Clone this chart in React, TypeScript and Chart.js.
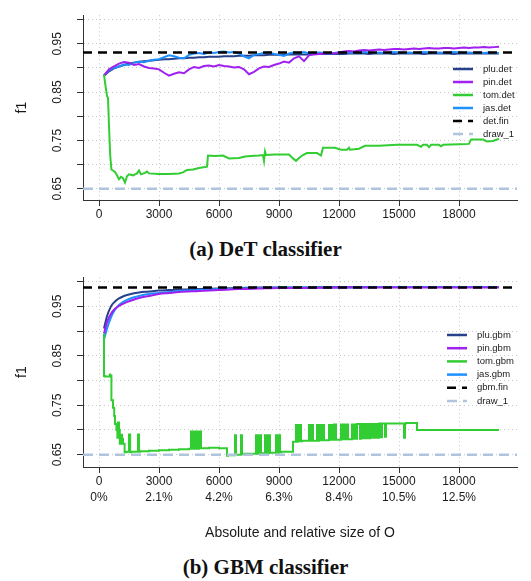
import React, { useEffect, useRef } from 'react';
import { Chart, registerables } from 'chart.js';

Chart.register(...registerables);

// ---------- shared axis data ----------
const X_MIN = -800;
const X_MAX = 20900;
const X_TICKS = [0, 3000, 6000, 9000, 12000, 15000, 18000];
const PCT_LABELS = ['0%', '2.1%', '4.2%', '6.3%', '8.4%', '10.5%', '12.5%'];
const Y_TICKS = [0.65, 0.7, 0.75, 0.8, 0.85, 0.9, 0.95, 1.0];
const Y_LABELED = [0.65, 0.75, 0.85, 0.95];

// ---------- panel (a) DeT ----------
const X_A = [
  250, 500, 750, 1000, 1250, 1500, 1750, 2000, 2250, 2500, 2750, 3000, 3250, 3500, 3750, 4000,
  4250, 4500, 4750, 5000, 5250, 5500, 5750, 6000, 6250, 6500, 6750, 7000, 7250, 7500, 7750, 8000,
  8250, 8500, 8750, 9000, 9250, 9500, 9750, 10000, 10250, 10500, 10750, 11000, 11250, 11500, 11750, 12000,
  12250, 12500, 12750, 13000, 13250, 13500, 13750, 14000, 14250, 14500, 14750, 15000, 15250, 15500, 15750, 16000,
  16250, 16500, 16750, 17000, 17250, 17500, 17750, 18000, 18250, 18500, 18750, 19000, 19250, 19500, 19750, 20000,
];
const PLU_DET = [
  0.884, 0.893, 0.899, 0.903, 0.906, 0.909, 0.911, 0.913, 0.914, 0.915, 0.916, 0.917, 0.918, 0.918, 0.919, 0.92,
  0.92, 0.921, 0.921, 0.922, 0.922, 0.923, 0.923, 0.923, 0.924, 0.924, 0.924, 0.925, 0.925, 0.925, 0.926, 0.926,
  0.926, 0.927, 0.927, 0.927, 0.927, 0.928, 0.928, 0.928, 0.928, 0.928, 0.929, 0.929, 0.929, 0.929, 0.929, 0.929,
  0.929, 0.93, 0.93, 0.93, 0.93, 0.929, 0.93, 0.93, 0.93, 0.93, 0.929, 0.93, 0.93, 0.93, 0.93, 0.93,
  0.929, 0.93, 0.93, 0.93, 0.93, 0.93, 0.929, 0.93, 0.93, 0.93, 0.93, 0.93, 0.93, 0.93, 0.93, 0.93,
];
const PIN_DET = [
  0.884, 0.897, 0.903, 0.909, 0.912, 0.911, 0.906, 0.908, 0.903, 0.9, 0.899, 0.897, 0.89, 0.884, 0.888, 0.891,
  0.889, 0.897, 0.902, 0.9, 0.904, 0.905, 0.903, 0.906, 0.904, 0.903, 0.901, 0.902, 0.897, 0.887, 0.892, 0.899,
  0.903, 0.902, 0.906, 0.909, 0.913, 0.911, 0.92, 0.924, 0.914, 0.926, 0.928, 0.929, 0.93, 0.931, 0.93, 0.932,
  0.934, 0.935, 0.934, 0.936, 0.937, 0.936, 0.937, 0.938, 0.937, 0.938, 0.939, 0.939, 0.938, 0.939, 0.94, 0.939,
  0.94, 0.941, 0.94, 0.94, 0.941, 0.941, 0.94, 0.941, 0.942, 0.941, 0.942, 0.942, 0.943, 0.942, 0.943, 0.944,
];
const JAS_DET = [
  0.885, 0.895, 0.9, 0.903, 0.907, 0.906, 0.911, 0.913, 0.912, 0.915, 0.917, 0.918, 0.922, 0.926, 0.924, 0.921,
  0.92, 0.927, 0.93, 0.931, 0.929, 0.932, 0.931, 0.933, 0.934, 0.932, 0.933, 0.93, 0.924, 0.92, 0.927, 0.929,
  0.931, 0.932, 0.929, 0.927, 0.925, 0.93, 0.932, 0.931, 0.933, 0.93, 0.931, 0.932, 0.931, 0.93, 0.931, 0.932,
  0.933, 0.932, 0.931, 0.932, 0.933, 0.932, 0.931, 0.932, 0.931, 0.932, 0.933, 0.932, 0.931, 0.932, 0.931, 0.932,
  0.933, 0.932, 0.931, 0.932, 0.931, 0.932, 0.933, 0.932, 0.931, 0.932, 0.931, 0.932, 0.931, 0.932, 0.931, 0.931,
];
const TOM_DET_X = [
  250, 300, 400, 450, 500, 560, 620, 700, 800, 900, 1000, 1100, 1200, 1300, 1400, 1500, 1700, 1900, 2000, 2100,
  2300, 2400, 2500, 3000, 3500, 4000, 4200, 4400, 4700, 5000, 5300, 5400, 5450, 5800, 6200, 6500, 7000, 7300, 7600, 8000,
  8200, 8250, 8300, 8350, 8800, 9500, 9700, 9850, 10000, 10200, 10400, 10900, 11100, 11200, 11800, 12100, 12400, 12500, 12550, 13000,
  13300, 14000, 14900, 15900, 16100, 16200, 16400, 16500, 16600, 17000, 17100, 17200, 18000, 18500, 18600, 19200, 19400, 19700, 19900, 20000,
];
const TOM_DET_Y = [
  0.886, 0.87, 0.842, 0.838, 0.78, 0.72, 0.69, 0.688, 0.685, 0.678, 0.67, 0.675, 0.672, 0.663, 0.676, 0.68, 0.678, 0.682, 0.688, 0.68,
  0.683, 0.686, 0.682, 0.681, 0.681, 0.682, 0.684, 0.689, 0.69, 0.693, 0.695, 0.696, 0.719, 0.718, 0.719, 0.713, 0.714, 0.717, 0.718, 0.719,
  0.72, 0.708, 0.727, 0.72, 0.721, 0.721, 0.713, 0.708, 0.714, 0.72, 0.724, 0.724, 0.719, 0.735, 0.735, 0.731, 0.731, 0.735, 0.731, 0.733,
  0.739, 0.739, 0.741, 0.741, 0.737, 0.741, 0.741, 0.736, 0.741, 0.741, 0.738, 0.741, 0.742, 0.743, 0.752, 0.752, 0.748, 0.749, 0.752, 0.753,
];
const DET_FIN = 0.932;
const DRAW_1 = 0.65;

// ---------- panel (b) GBM ----------
const X_B = [250, 400, 600, 800, 1000, 1250, 1500, 2000, 2500, 3000, 3500, 4000, 5000, 6000, 7000, 8000, 9000, 10000, 12000, 14000, 16000, 18000, 20000];
const PLU_GBM = [0.905, 0.93, 0.95, 0.96, 0.966, 0.971, 0.974, 0.978, 0.98, 0.982, 0.983, 0.984, 0.985, 0.986, 0.987, 0.988, 0.988, 0.988, 0.989, 0.989, 0.989, 0.989, 0.989];
const PIN_GBM = [0.895, 0.918, 0.935, 0.945, 0.951, 0.956, 0.96, 0.967, 0.971, 0.975, 0.977, 0.979, 0.981, 0.983, 0.985, 0.986, 0.987, 0.987, 0.988, 0.988, 0.988, 0.988, 0.988];
const JAS_GBM = [0.883, 0.905, 0.928, 0.943, 0.953, 0.96, 0.965, 0.971, 0.975, 0.977, 0.979, 0.981, 0.983, 0.985, 0.986, 0.987, 0.988, 0.988, 0.988, 0.989, 0.989, 0.989, 0.989];
const TOM_GBM_X = [
  250, 290, 540, 560, 620, 700, 760, 800, 870, 920, 950, 1000, 1040, 1100, 1150, 1200, 1280, 1370, 1500, 1560,
  1620, 1950, 2000, 2060, 2500, 3000, 3500, 4000, 4500, 4600, 4650, 4700, 4800, 4850, 4950, 5000, 5100, 5150, 5500, 6000,
  6400, 6450, 6800, 6850, 6900, 7100, 7150, 7200, 7850, 7900, 7950, 8000, 8050, 8100, 8150, 8300, 8350, 8400, 8450, 8500,
  8550, 8600, 8850, 8900, 8950, 9050, 9100, 9700, 9800, 9850, 9880, 9930, 10000, 10050, 10100, 10150, 10500, 10550, 10600, 10700,
  10750, 10900, 10950, 11000, 11100, 11150, 11250, 11300, 11500, 11550, 11600, 11700, 11750, 11850, 11900, 12100, 12150, 12200, 12300, 12350,
  12450, 12500, 12650, 12700, 12750, 12850, 12900, 13050, 13100, 13200, 13250, 13350, 13400, 13500, 13550, 13650, 13700, 13800, 13850, 13950,
  14000, 14100, 14150, 14300, 14350, 14450, 15250, 15300, 15350, 15900, 15950, 20000,
];
const TOM_GBM_Y = [
  0.895, 0.809, 0.808, 0.812, 0.81, 0.76, 0.745, 0.728, 0.712, 0.7, 0.684, 0.715, 0.7, 0.672, 0.69, 0.682, 0.672, 0.655, 0.656, 0.691,
  0.655, 0.656, 0.691, 0.656, 0.657, 0.658, 0.659, 0.66, 0.661, 0.662, 0.697, 0.662, 0.697, 0.662, 0.697, 0.662, 0.697, 0.663, 0.663, 0.664,
  0.663, 0.648, 0.649, 0.689, 0.65, 0.65, 0.689, 0.651, 0.652, 0.689, 0.652, 0.689, 0.652, 0.689, 0.653, 0.653, 0.689, 0.653, 0.689, 0.653,
  0.689, 0.654, 0.654, 0.689, 0.654, 0.689, 0.655, 0.656, 0.676, 0.676, 0.71, 0.676, 0.71, 0.677, 0.71, 0.677, 0.678, 0.71, 0.678, 0.71,
  0.678, 0.678, 0.71, 0.678, 0.71, 0.679, 0.71, 0.679, 0.679, 0.71, 0.68, 0.71, 0.68, 0.711, 0.68, 0.68, 0.711, 0.681, 0.711, 0.681,
  0.711, 0.681, 0.681, 0.711, 0.682, 0.711, 0.682, 0.712, 0.682, 0.712, 0.683, 0.712, 0.683, 0.712, 0.683, 0.712, 0.684, 0.712, 0.684, 0.712,
  0.684, 0.713, 0.685, 0.713, 0.686, 0.713, 0.713, 0.684, 0.713, 0.714, 0.7, 0.7,
];
const GBM_FIN = 0.988;

// ---------- styles ----------
const SANS = '"Liberation Sans", Arial, Helvetica, sans-serif';
const SERIF = '"Liberation Serif", "Times New Roman", serif';
const C_PLU = '#27408B';
const C_PIN = '#A020F0';
const C_TOM = '#32CD32';
const C_JAS = '#1E90FF';
const C_FIN = '#000000';
const C_DRAW = '#B0C4DE';
const TEXT = '#1a1a1a';

const xy = (xs: number[], ys: number[]) => xs.map((x, i) => ({ x, y: ys[i] }));
const flat = (v: number) => [{ x: X_MIN, y: v }, { x: X_MAX, y: v }];

const insideLegend = {
  id: 'insideLegend',
  afterDraw(chart: any, _args: any, opts: any) {
    const { ctx } = chart;
    ctx.save();
    ctx.font = `9.5px ${SANS}`;
    ctx.textBaseline = 'middle';
    ctx.textAlign = 'left';
    (opts.order as string[]).forEach((label, i) => {
      const ds = chart.data.datasets.find((d: any) => d.label === label);
      if (!ds) return;
      const yy = opts.y + i * opts.step;
      ctx.strokeStyle = ds.borderColor;
      ctx.lineWidth = 2.5;
      ctx.setLineDash(ds.borderDash || []);
      ctx.beginPath();
      ctx.moveTo(opts.x, yy);
      ctx.lineTo(opts.x + 20, yy);
      ctx.stroke();
      ctx.setLineDash([]);
      ctx.fillStyle = TEXT;
      ctx.fillText(label, opts.x + 30, yy);
    });
    ctx.restore();
  },
};

function line(label: string, data: any[], color: string, extra: any = {}) {
  return {
    label,
    data,
    borderColor: color,
    backgroundColor: color,
    borderWidth: 2,
    pointRadius: 0,
    fill: false,
    tension: 0,
    ...extra,
  };
}

function makeOptions(p: {
  yMin: number;
  yMax: number;
  padTop: number;
  xHeight: number;
  twoLine: boolean;
  xTitle: string | null;
  legend: any;
}) {
  return {
    responsive: false,
    animation: false,
    events: [],
    layout: { padding: { left: 0, right: 14, top: p.padTop, bottom: 0 } },
    plugins: {
      legend: { display: false },
      tooltip: { enabled: false },
      insideLegend: p.legend,
    },
    scales: {
      x: {
        type: 'linear',
        min: X_MIN,
        max: X_MAX,
        afterBuildTicks: (s: any) => {
          s.ticks = X_TICKS.map((v) => ({ value: v }));
        },
        afterFit: (s: any) => {
          s.height = p.xHeight;
        },
        ticks: {
          autoSkip: false,
          maxRotation: 0,
          minRotation: 0,
          padding: 1,
          color: TEXT,
          font: { family: SANS, size: 12, lineHeight: 1.333 },
          callback: (v: any, i: number) => (p.twoLine ? [String(v), PCT_LABELS[i]] : String(v)),
        },
        grid: {
          color: '#c8c8c8',
          lineWidth: 1,
          tickLength: 6,
          tickColor: '#333',
          tickWidth: 1,
          tickBorderDash: [],
        },
        border: { display: true, color: '#333', width: 1, dash: [1, 3] },
        title: p.xTitle
          ? {
              display: true,
              text: p.xTitle,
              color: TEXT,
              font: { family: SANS, size: 14 },
              padding: { top: 0, bottom: 10 },
            }
          : { display: false },
      },
      y: {
        type: 'linear',
        min: p.yMin,
        max: p.yMax,
        afterBuildTicks: (s: any) => {
          s.ticks = Y_TICKS.map((v) => ({ value: v }));
        },
        afterFit: (s: any) => {
          s.width = 83;
        },
        ticks: {
          autoSkip: false,
          minRotation: 90,
          maxRotation: 90,
          crossAlign: 'center',
          padding: 8,
          color: TEXT,
          font: { family: SANS, size: 12 },
          callback: (v: any) =>
            Y_LABELED.some((l) => Math.abs(l - Number(v)) < 1e-6) ? Number(v).toFixed(2) : '',
        },
        grid: {
          color: '#c8c8c8',
          lineWidth: 1,
          tickLength: 6,
          tickColor: '#333',
          tickWidth: 1,
          tickBorderDash: [],
        },
        border: { display: true, color: '#333', width: 1, dash: [1, 3] },
        title: {
          display: true,
          text: 'f1',
          color: TEXT,
          font: { family: SANS, size: 14 },
          padding: { top: 14, bottom: 0 },
        },
      },
    },
  };
}

function configA() {
  return {
    type: 'line',
    data: {
      datasets: [
        line('draw_1', flat(DRAW_1), C_DRAW, { borderDash: [10, 6], borderWidth: 2.5 }),
        line('det.fin', flat(DET_FIN), C_FIN, { borderDash: [9, 6], borderWidth: 2.5 }),
        line('tom.det', xy(TOM_DET_X, TOM_DET_Y), C_TOM),
        line('pin.det', xy(X_A, PIN_DET), C_PIN),
        line('jas.det', xy(X_A, JAS_DET), C_JAS),
        line('plu.det', xy(X_A, PLU_DET), C_PLU),
      ],
    },
    options: makeOptions({
      yMin: 0.627,
      yMax: 1.009,
      padTop: 3,
      xHeight: 32,
      twoLine: false,
      xTitle: null,
      legend: { x: 453, y: 69, step: 13, order: ['plu.det', 'pin.det', 'tom.det', 'jas.det', 'det.fin', 'draw_1'] },
    }),
    plugins: [insideLegend],
  };
}

function configB() {
  const smooth = { cubicInterpolationMode: 'monotone' };
  return {
    type: 'line',
    data: {
      datasets: [
        line('draw_1', flat(DRAW_1), C_DRAW, { borderDash: [10, 6], borderWidth: 2.5 }),
        line('gbm.fin', flat(GBM_FIN), C_FIN, { borderDash: [9, 6], borderWidth: 2.5 }),
        line('tom.gbm', xy(TOM_GBM_X, TOM_GBM_Y), C_TOM, { stepped: 'after' }),
        line('pin.gbm', xy(X_B, PIN_GBM), C_PIN, smooth),
        line('jas.gbm', xy(X_B, JAS_GBM), C_JAS, smooth),
        line('plu.gbm', xy(X_B, PLU_GBM), C_PLU, smooth),
      ],
    },
    options: makeOptions({
      yMin: 0.625,
      yMax: 1.009,
      padTop: 9,
      xHeight: 85,
      twoLine: true,
      xTitle: 'Absolute and relative size of O',
      legend: { x: 447, y: 73, step: 13.2, order: ['plu.gbm', 'pin.gbm', 'tom.gbm', 'jas.gbm', 'gbm.fin', 'draw_1'] },
    }),
    plugins: [insideLegend],
  };
}

function ChartCanvas({ make, top, height }: { make: () => any; top: number; height: number }) {
  const ref = useRef<HTMLCanvasElement>(null);
  useEffect(() => {
    const chart = new Chart(ref.current as HTMLCanvasElement, make());
    return () => chart.destroy();
  }, []);
  return (
    <canvas
      ref={ref}
      width={531}
      height={height}
      style={{ position: 'absolute', left: 0, top, width: 531, height, display: 'block' }}
    />
  );
}

const captionStyle = (top: number): React.CSSProperties => ({
  position: 'absolute',
  left: 0,
  top,
  width: 531,
  textAlign: 'center',
  fontFamily: SERIF,
  fontWeight: 'bold',
  fontSize: 21,
  lineHeight: '22px',
  color: '#111',
});

export default function App() {
  return (
    <div style={{ position: 'absolute', left: 0, top: 0, width: 531, height: 581, background: '#fff', overflow: 'hidden' }}>
      <ChartCanvas make={configA} top={0} height={232} />
      <div style={captionStyle(238)}>(a) DeT classifier</div>
      <ChartCanvas make={configB} top={262} height={290} />
      <div style={captionStyle(556)}>(b) GBM classifier</div>
    </div>
  );
}
